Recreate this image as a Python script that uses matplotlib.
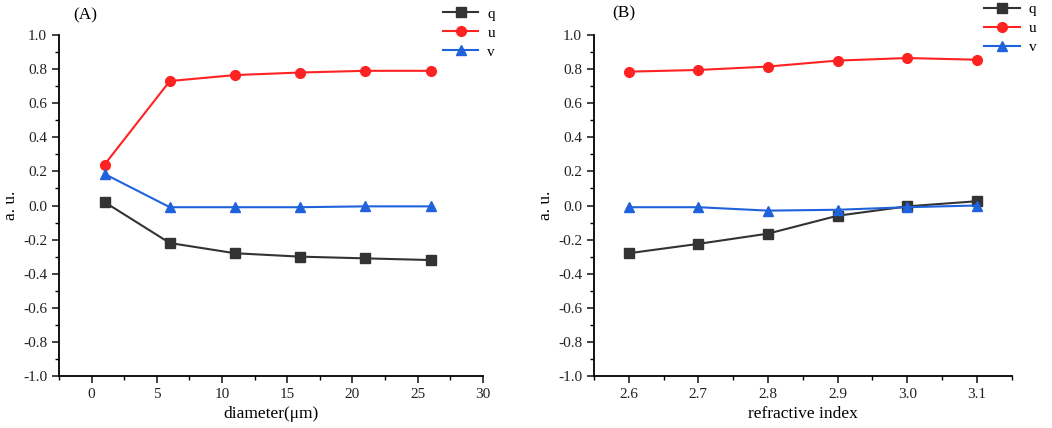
import matplotlib
matplotlib.use("Agg")
import matplotlib.pyplot as plt
from matplotlib.ticker import MultipleLocator

plt.rcParams['font.family'] = ['Liberation Serif', 'DejaVu Serif']
plt.rcParams['axes.unicode_minus'] = False

diameter = [1, 6, 11, 16, 21, 26]
qA = [0.02, -0.22, -0.28, -0.30, -0.31, -0.32]
uA = [0.24, 0.73, 0.765, 0.78, 0.79, 0.79]
vA = [0.185, -0.01, -0.01, -0.01, -0.005, -0.005]

refr = [2.6, 2.7, 2.8, 2.9, 3.0, 3.1]
qB = [-0.28, -0.225, -0.165, -0.06, -0.005, 0.025]
uB = [0.785, 0.795, 0.815, 0.85, 0.865, 0.855]
vB = [-0.01, -0.01, -0.03, -0.025, -0.01, 0.00]

series_names = ['q', 'u', 'v']
colors = ['#333333', '#FF2222', '#1F62DB']
markers = ['s', 'o', '^']

fig = plt.figure(figsize=(10.52, 4.28), dpi=100)
axA = fig.add_axes([0.056, 0.1215, 0.403, 0.7967])
axB = fig.add_axes([0.5646, 0.1215, 0.397, 0.7967])

def style(ax, xlim, xmaj, xmin, xlabel, label, labelpos, legpos):
    ax.set_xlim(*xlim)
    ax.set_ylim(-1.0, 1.0)
    ax.xaxis.set_major_locator(MultipleLocator(xmaj))
    ax.xaxis.set_minor_locator(MultipleLocator(xmin))
    ax.yaxis.set_major_locator(MultipleLocator(0.2))
    ax.yaxis.set_minor_locator(MultipleLocator(0.1))
    ax.yaxis.set_major_formatter(plt.FuncFormatter(lambda v, p: f"{v:.1f}"))
    for s in ['top', 'right']:
        ax.spines[s].set_visible(False)
    for s in ['left', 'bottom']:
        ax.spines[s].set_linewidth(1.3)
    ax.tick_params(which='major', length=5, width=1.2, labelsize=11, colors='#222222')
    ax.tick_params(which='minor', length=3, width=1.0)
    ax.set_xlabel(xlabel, fontsize=12.5, labelpad=4)
    ax.set_ylabel('a. u.', fontsize=12.5, labelpad=3)
    ax.text(labelpos[0], labelpos[1], label, transform=ax.transAxes, fontsize=12.5, va='center')
    ax.legend(loc='upper left', bbox_to_anchor=legpos, frameon=False, fontsize=11,
              handlelength=2.3, labelspacing=0.35, handletextpad=0.6,
              borderaxespad=0, borderpad=0)

for ax, x, data in [(axA, diameter, [qA, uA, vA]), (axB, refr, [qB, uB, vB])]:
    for name, c, m, y in zip(series_names, colors, markers, data):
        ax.plot(x, y, color=c, marker=m, markersize=7, linewidth=1.5, label=name)

style(axA, (-2.5, 30), 5, 2.5, 'diameter(μm)', '(A)', (0.033, 1.059), (0.906, 1.082))
style(axB, (2.55, 3.15), 0.1, 0.05, 'refractive index', '(B)', (0.043, 1.064), (0.935, 1.095))

fig.savefig('out.png', dpi=100)
